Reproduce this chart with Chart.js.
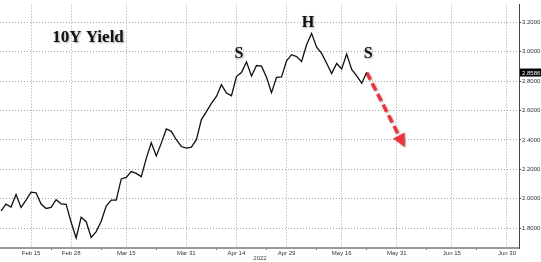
<!DOCTYPE html>
<html>
<head>
<title>10Y Yield</title>
<script src="https://cdn.jsdelivr.net/npm/chart.js"></script>
<style>
    body {
        margin: 0;
        background: #fff;
    }

    .chart-box {
        position: relative;
        width: 541px;
        height: 262px;
    }
</style>
</head>
<body>
<div class="chart-box">
    <canvas id="yieldChart"></canvas>
</div>

<script>
// x = trading day index, 0 = Feb 7 2022 (future part of the axis counts every weekday)
const yields = [
    1.916, 1.963, 1.943, 2.028, 1.940, 1.990, 2.044, 2.040, 1.963, 1.933,
    1.940, 1.993, 1.965, 1.961, 1.839, 1.732, 1.873, 1.843, 1.736, 1.776,
    1.846, 1.950, 1.990, 1.990, 2.134, 2.144, 2.184, 2.172, 2.150, 2.274,
    2.381, 2.291, 2.378, 2.474, 2.458, 2.401, 2.355, 2.344, 2.351, 2.401,
    2.538, 2.592, 2.649, 2.696, 2.776, 2.719, 2.701, 2.831, 2.858, 2.931,
    2.835, 2.906, 2.902, 2.826, 2.722, 2.826, 2.829, 2.938, 2.980, 2.967,
    2.934, 3.047, 3.125, 3.031, 2.989, 2.922, 2.851, 2.920, 2.883, 2.985,
    2.880, 2.836, 2.786, 2.8586
];
const xTickPos = [6, 14, 25, 37, 47, 57, 68, 79, 90, 101];
const xTickLabels = ['Feb 15', 'Feb 28', 'Mar 15', 'Mar 31', 'Apr 14', 'Apr 29', 'May 16', 'May 31', 'Jun 15', 'Jun 30'];
const xMinorPos = [10, 20, 31, 43, 53, 63, 73, 85, 95];
const yTickValues = [1.8, 2.0, 2.2, 2.4, 2.6, 2.8, 3.0, 3.2];

// projected move (dashed red arrow)
const arrowX = [73, 80.6];
const arrowY = [2.8586, 2.351];

// head & shoulders letters
const markLabels = ['S', 'H', 'S'];
const markX = [47.5, 61.3, 73.3];
const markY = [2.987, 3.200, 2.987];

const lastValue = yields[yields.length - 1];
const yearLabel = '2022';
const yearLabelAt = 51.7;

const RED = '#ec3340';

const overlay = {
    id: 'overlay',
    beforeDatasetDraw(chart, args) {
        if (args.index === 1) {
            const ctx = chart.ctx;
            ctx.save();
            ctx.shadowColor = 'rgba(0,0,0,0.3)';
            ctx.shadowBlur = 2;
            ctx.shadowOffsetX = 1;
            ctx.shadowOffsetY = 1;
        }
    },
    afterDatasetDraw(chart, args) {
        if (args.index === 1) chart.ctx.restore();
    },
    afterDraw(chart) {
        const {ctx, chartArea, scales: {x, y}} = chart;

        // arrow head
        const pts = chart.getDatasetMeta(1).data;
        const a = pts[pts.length - 2], b = pts[pts.length - 1];
        const ang = Math.atan2(b.y - a.y, b.x - a.x);
        ctx.save();
        ctx.fillStyle = RED;
        ctx.shadowColor = 'rgba(0,0,0,0.3)';
        ctx.shadowBlur = 2;
        ctx.shadowOffsetX = 1;
        ctx.shadowOffsetY = 1;
        ctx.translate(b.x, b.y);
        ctx.rotate(ang);
        ctx.beginPath();
        ctx.moveTo(0, 0);
        ctx.lineTo(-13, -6.5);
        ctx.lineTo(-13, 6.5);
        ctx.closePath();
        ctx.fill();
        ctx.restore();

        // text annotations
        ctx.save();
        ctx.fillStyle = '#111';
        ctx.shadowColor = 'rgba(0,0,0,0.35)';
        ctx.shadowBlur = 2;
        ctx.shadowOffsetX = 1;
        ctx.shadowOffsetY = 1;
        ctx.textAlign = 'center';
        ctx.textBaseline = 'middle';
        ctx.font = 'bold 17px "Liberation Serif"';
        ctx.fillText('10Y Yield', chartArea.left + 88, chartArea.top + 33);
        ctx.font = 'bold 16px "Liberation Serif"';
        markLabels.forEach((t, i) => {
            ctx.fillText(t, x.getPixelForValue(markX[i]), y.getPixelForValue(markY[i]));
        });
        ctx.restore();

        // last value box
        const ly = y.getPixelForValue(lastValue);
        ctx.save();
        ctx.fillStyle = '#000';
        ctx.fillRect(chartArea.right + 1, ly - 4, chart.width - chartArea.right - 1, 8);
        ctx.fillStyle = '#fff';
        ctx.font = '6px "Liberation Sans"';
        ctx.textAlign = 'left';
        ctx.textBaseline = 'middle';
        ctx.fillText(lastValue.toFixed(4), chartArea.right + 3, ly + 0.5);
        ctx.restore();

        // year under the date axis
        ctx.save();
        ctx.fillStyle = '#444';
        ctx.font = '6px "Liberation Sans"';
        ctx.textAlign = 'center';
        ctx.textBaseline = 'middle';
        ctx.fillText(yearLabel, x.getPixelForValue(yearLabelAt), chart.height - 4);
        ctx.restore();
    }
};

const allXTicks = xTickPos.concat(xMinorPos).sort((p, q) => p - q);

new Chart(document.getElementById('yieldChart'), {
    type: 'line',
    data: {
        datasets: [
            {
                label: '10Y Yield',
                data: yields.map((v, i) => ({x: i, y: v})),
                borderColor: '#111',
                borderWidth: 1.3,
                pointRadius: 0,
                tension: 0
            },
            {
                label: 'Projection',
                data: arrowX.map((v, i) => ({x: v, y: arrowY[i]})),
                borderColor: RED,
                borderWidth: 3.5,
                borderDash: [8, 4],
                pointRadius: 0
            }
        ]
    },
    options: {
        responsive: true,
        maintainAspectRatio: false,
        animation: false,
        layout: {padding: 0},
        plugins: {
            legend: {display: false},
            tooltip: {enabled: false}
        },
        scales: {
            x: {
                type: 'linear',
                min: -0.2,
                max: 103.4,
                afterBuildTicks: (scale) => {
                    scale.ticks = allXTicks.map(v => ({value: v}));
                },
                afterFit: (scale) => {
                    scale.height = 14;
                },
                ticks: {
                    autoSkip: false,
                    maxRotation: 0,
                    padding: 0,
                    color: '#333',
                    font: {family: 'Liberation Sans', size: 6},
                    callback: (value) => {
                        const k = xTickPos.indexOf(value);
                        return k >= 0 ? xTickLabels[k] : '';
                    }
                },
                grid: {
                    color: (c) => c.tick && xTickPos.includes(c.tick.value) ? '#a4a4a4' : 'rgba(0,0,0,0)',
                    tickColor: (c) => c.tick && xTickPos.includes(c.tick.value) ? 'rgba(0,0,0,0)' : '#666',
                    tickLength: 2,
                    tickBorderDash: [],
                    lineWidth: 1
                },
                border: {
                    color: '#999',
                    width: 2,
                    dash: [1, 2]
                }
            },
            y: {
                position: 'right',
                min: 1.664,
                max: 3.321,
                afterBuildTicks: (scale) => {
                    scale.ticks = yTickValues.map(v => ({value: v}));
                },
                afterFit: (scale) => {
                    scale.width = 22;
                },
                ticks: {
                    padding: 1,
                    color: '#333',
                    font: {family: 'Liberation Sans', size: 6},
                    callback: (value) => value.toFixed(4)
                },
                grid: {
                    color: '#a4a4a4',
                    tickColor: '#444',
                    tickLength: 2,
                    tickBorderDash: [],
                    lineWidth: 1
                },
                border: {
                    color: '#444',
                    width: 1,
                    dash: [1, 2]
                }
            }
        }
    },
    plugins: [overlay]
});
</script>
</body>
</html>
